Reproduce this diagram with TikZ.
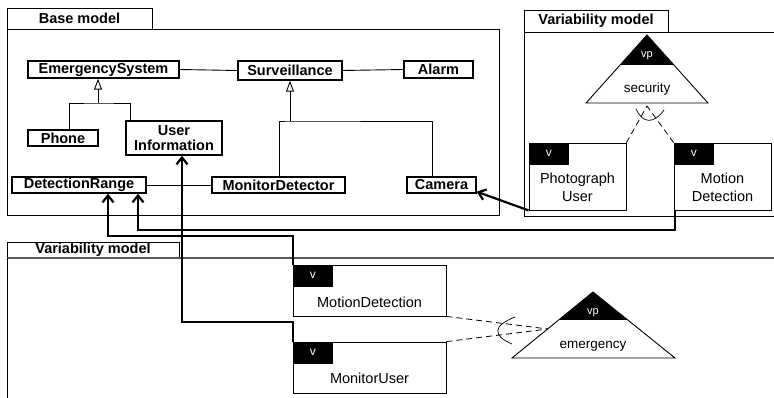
\documentclass[tikz,border=0pt]{standalone}
\usepackage{fontspec}
\setmainfont{Liberation Sans}
\usetikzlibrary{arrows.meta,calc}
\begin{document}
\begin{tikzpicture}[x=1pt,y=-1pt,
  umlbox/.style={draw,line width=1.3pt,fill=white,inner sep=0pt,font=\fontsize{14.5}{15.5}\selectfont\bfseries,align=center},
  frame/.style={draw,line width=0.9pt},
  tabtext/.style={font=\fontsize{14.5}{16}\selectfont\bfseries},
  varbox/.style={draw,line width=0.8pt,inner sep=0pt,fill=white},
  vtag/.style={fill=black,text=white,inner sep=0pt,minimum width=40pt,minimum height=22pt,font=\fontsize{12}{13}\selectfont,anchor=north west},
  vartext/.style={font=\fontsize{14.5}{18}\selectfont,align=center},
  vptext/.style={text=white,font=\fontsize{11}{12}\selectfont},
  vpname/.style={font=\fontsize{13.5}{15}\selectfont},
  bigarrow/.style={line width=2.2pt,-{Straight Barb[length=7pt,width=11pt]}},
  inherit/.style={line width=0.9pt,-{Triangle[open,length=11pt,width=8pt,line width=0.9pt]}},
  assoc/.style={line width=0.9pt},
  dashline/.style={line width=0.8pt,dash pattern=on 6pt off 4pt},
]
\useasboundingbox (0,0) rectangle (774,398);

% ---------- Base model frame ----------
\draw[frame] (7,29) rectangle (499,215);
\draw[frame] (7,8) rectangle (152,29);
\node[tabtext] (basetab) at (79.5,18.5) {Base model};

\node[umlbox,minimum width=151pt,minimum height=17pt] (es) at (103.5,69.5) {EmergencySystem};
\node[umlbox,minimum width=104pt,minimum height=19pt] (sv) at (290,70.5) {Surveillance};
\node[umlbox,minimum width=69pt,minimum height=17pt] (al) at (438.5,69.5) {Alarm};
\node[umlbox,minimum width=70pt,minimum height=16pt] (ph) at (63,138) {Phone};
\node[umlbox,minimum width=96pt,minimum height=34pt] (ui) at (174,138) {User\\Information};
\node[umlbox,minimum width=134pt,minimum height=16pt] (dr) at (79,185) {DetectionRange};
\node[umlbox,minimum width=133pt,minimum height=16pt] (md) at (278.5,185) {MonitorDetector};
\node[umlbox,minimum width=69pt,minimum height=16pt] (cam) at (441.5,185) {Camera};

\draw[assoc] (es.east) -- (sv.west);
\draw[assoc] (sv.east) -- (al.west);
\draw[assoc] (dr.east) -- (md.west);

\coordinate (esj) at (98,103);
\draw[inherit] (esj) -- (esj |- es.south);
\draw[assoc] ($(ph.north)+(6,0)$) |- (esj) -| ($(ui.north west)+(5,0)$);

\coordinate (svj) at (290,121);
\draw[inherit] (svj) -- (svj |- sv.south);
\draw[assoc] ($(md.north)+(0.5,0)$) |- (svj) -| ($(cam.north)+(-9.5,0)$);

% ---------- Right variability model ----------
\draw[frame] (524,10) rectangle (668,32);
\draw[frame] (774,32) -- (524,32) -- (524,216) -- (774,216);
\node[tabtext] (rvtab) at (596,21) {Variability model};

\coordinate (secA) at (647,35);
\coordinate (secL) at (586,103);
\coordinate (secR) at (708,103);
\draw[line width=0.9pt,fill=white] (secA) -- (secL) -- (secR) -- cycle;
\fill (secA) -- ($(secA)!0.441!(secL)$) -- ($(secA)!0.441!(secR)$) -- cycle;
\node[vptext] (secvp) at (647,56) {vp};
\node[vpname] (secname) at (647,89) {security};

\node[varbox,minimum width=97pt,minimum height=67pt] (pu) at (577.5,176.5) {};
\node[vtag] (putag) at (pu.north west) {v};
\node[vartext] (putext) at (577.5,187) {Photograph\\User};

\node[varbox,minimum width=97pt,minimum height=67pt] (mdv) at (722.5,176.5) {};
\node[vtag] (mdvtag) at (mdv.north west) {v};
\node[vartext] (mdvtext) at (722.5,187) {Motion\\Detection};

\coordinate (secJ) at (647,106);
\draw[dashline] (pu.north east) -- (secJ);
\draw[dashline] (mdv.north west) -- (secJ);
\draw[line width=0.7pt] (636,109) .. controls (643,124) and (654,124) .. (664,110);

% ---------- Bottom variability model ----------
\draw[frame] (7,242) rectangle (179,258);
\node[tabtext] (bvtab) at (93,250) {Variability model};
\draw[line width=1.3pt,black!65] (7,258) -- (774,258);
\draw[frame] (7,258) -- (7,398);

\node[varbox,minimum width=153pt,minimum height=51pt] (bmd) at (369.5,290.5) {};
\node[vtag] (bmdtag) at (bmd.north west) {v};
\node[vartext] (bmdtext) at (369.5,302) {MotionDetection};

\node[varbox,minimum width=153pt,minimum height=51pt] (bmu) at (369.5,367.5) {};
\node[vtag] (bmutag) at (bmu.north west) {v};
\node[vartext] (bmutext) at (369.5,378) {MonitorUser};

\coordinate (emA) at (593,292);
\coordinate (emL) at (512,358);
\coordinate (emR) at (675,358);
\draw[line width=0.9pt,fill=white] (emA) -- (emL) -- (emR) -- cycle;
\fill (emA) -- ($(emA)!0.424!(emL)$) -- ($(emA)!0.424!(emR)$) -- cycle;
\node[vptext] (emvp) at (593,313) {vp};
\node[vpname] (emname) at (593,346) {emergency};

\coordinate (emJ) at (548,329);
\draw[dashline] (bmd.south east) -- (emJ);
\draw[dashline] (bmu.north east) -- (emJ);
\draw[line width=0.7pt] (515,317) .. controls (492,326) and (493,336) .. (512,344);

% ---------- Thick arrows ----------
\coordinate (a1) at (138,230);
\coordinate (a2) at (108,236);
\coordinate (a3) at (182,322);
\draw[bigarrow] (pu.south west) -- ($(cam.south east)+(0,-2)$);
\draw[bigarrow] ($(mdv.south west)+(1,0)$) |- (a1) -- (a1 |- dr.south);
\draw[bigarrow] (bmd.north west) |- (a2) -- (a2 |- dr.south);
\draw[bigarrow] (bmu.north west) |- (a3) -- (a3 |- ui.south);
\end{tikzpicture}
\end{document}
